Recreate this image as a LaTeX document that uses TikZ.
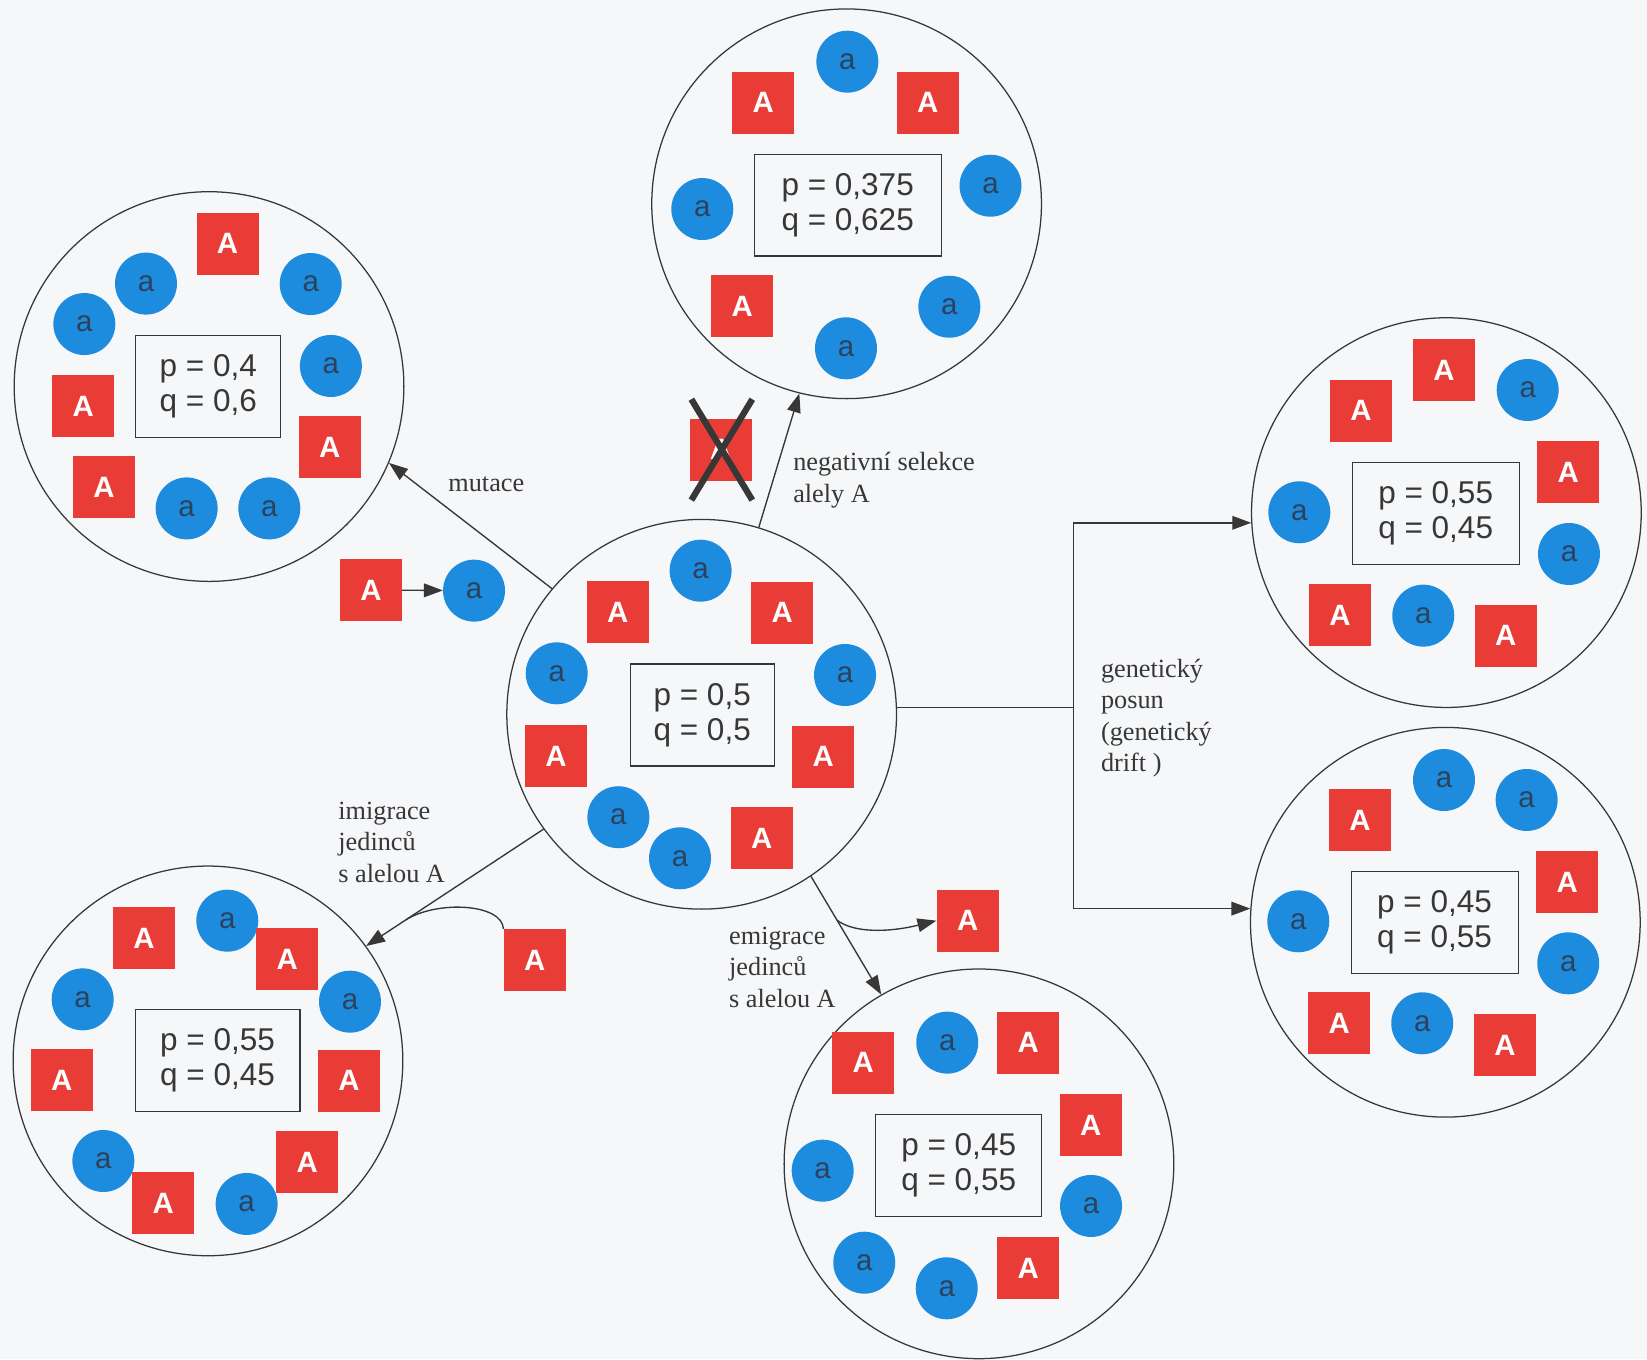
\documentclass[tikz,border=0pt]{standalone}
\usepackage{fontspec}
\setmainfont{Liberation Serif}
\newfontfamily\arialf{Liberation Sans}
\usetikzlibrary{arrows.meta,calc}
\definecolor{bg}{RGB}{246,247,249}
\definecolor{alred}{RGB}{233,60,55}
\definecolor{alblue}{RGB}{30,140,222}
\definecolor{atext}{RGB}{45,65,90}
\definecolor{ink}{RGB}{55,55,55}
\begin{document}
\begin{tikzpicture}[x=1pt,y=-1pt,
  pop/.style={circle, draw=ink, line width=1.2pt, minimum size=371pt, inner sep=0pt},
  bigA/.style={fill=alred, minimum size=59pt, inner sep=0pt, text=white, font=\arialf\bfseries\fontsize{28}{28}\selectfont},
  smalla/.style={circle, fill=alblue, minimum size=59pt, inner sep=0pt, text=atext, font=\arialf\fontsize{28}{28}\selectfont},
  freq/.style={draw=ink, line width=1.1pt, minimum height=97pt, inner sep=0pt, align=center, text=ink, font=\arialf\fontsize{30}{33}\selectfont},
  lbl/.style={inner sep=0pt, align=left, text=ink, font=\fontsize{25}{30}\selectfont},
  conn/.style={draw=ink, line width=1.3pt},
  arr/.style={conn, -{Triangle[length=18pt,width=13pt]}}]
\useasboundingbox (0,0) rectangle (1568,1294);
\fill[bg] (0,0) rectangle (1568,1294);

% population circles
\node[pop] (c1) at (199,368) {};
\node[pop] (c2) at (806,194) {};
\node[pop] (c3) at (668,680) {};
\node[pop] (c4) at (1377,488) {};
\node[pop] (c5) at (1376,878) {};
\node[pop] (c6) at (198,1010) {};
\node[pop] (c7) at (932,1108) {};

% circle 1
\node[bigA] (p1A1) at (216.6,232) {A};
\node[smalla] (p1a1) at (139,270) {a};
\node[smalla] (p1a2) at (80.3,308.5) {a};
\node[smalla] (p1a3) at (295.8,270.4) {a};
\node[smalla] (p1a4) at (315,348.4) {a};
\node[bigA] (p1A2) at (79.3,386.5) {A};
\node[bigA] (p1A3) at (314,426) {A};
\node[bigA] (p1A4) at (99,464) {A};
\node[smalla] (p1a5) at (177.7,484) {a};
\node[smalla] (p1a6) at (256.4,484) {a};
\node[freq, minimum width=138pt] (f1) at (198.3,367.7) {p = 0,4\\q = 0,6};

% circle 2
\node[smalla] (p2a1) at (806.7,58.7) {a};
\node[bigA] (p2A1) at (726.7,97.7) {A};
\node[bigA] (p2A2) at (883.2,97.7) {A};
\node[smalla] (p2a2) at (668.6,199) {a};
\node[smalla] (p2a3) at (943,176.8) {a};
\node[bigA] (p2A3) at (706.7,291.3) {A};
\node[smalla] (p2a4) at (805.4,331.6) {a};
\node[smalla] (p2a5) at (903.8,292) {a};
\node[freq, minimum width=178pt] (f2) at (807,195.2) {p = 0,375\\q = 0,625};

% circle 3
\node[smalla] (p3a1) at (667,543.3) {a};
\node[bigA] (p3A1) at (588,583) {A};
\node[bigA] (p3A2) at (744.8,583.3) {A};
\node[smalla] (p3a2) at (530,641) {a};
\node[smalla] (p3a3) at (804.5,642.6) {a};
\node[bigA] (p3A3) at (529.3,719.7) {A};
\node[bigA] (p3A4) at (783.8,720.4) {A};
\node[smalla] (p3a4) at (588.7,778) {a};
\node[smalla] (p3a5) at (647.4,817.1) {a};
\node[bigA] (p3A5) at (725.1,798.1) {A};
\node[freq, minimum width=137pt] (f3) at (668.5,680.7) {p = 0,5\\q = 0,5};

% circle 4
\node[bigA] (p4A1) at (1295.7,391) {A};
\node[bigA] (p4A2) at (1374.7,352.2) {A};
\node[smalla] (p4a1) at (1454.4,371.3) {a};
\node[bigA] (p4A3) at (1493,449.7) {A};
\node[smalla] (p4a2) at (1237,487.7) {a};
\node[smalla] (p4a3) at (1493.7,527.4) {a};
\node[bigA] (p4A4) at (1275.7,585.5) {A};
\node[smalla] (p4a4) at (1355,586.1) {a};
\node[bigA] (p4A5) at (1433.4,605.2) {A};
\node[freq, minimum width=159pt] (f4) at (1366.8,488.7) {p = 0,55\\q = 0,45};

% circle 5
\node[smalla] (p5a1) at (1374.7,742.6) {a};
\node[smalla] (p5a2) at (1453.4,761.6) {a};
\node[bigA] (p5A1) at (1294.7,780.6) {A};
\node[bigA] (p5A2) at (1492.1,840) {A};
\node[smalla] (p5a3) at (1236,877.1) {a};
\node[smalla] (p5a4) at (1493,917.1) {a};
\node[bigA] (p5A3) at (1275,974.2) {A};
\node[smalla] (p5a5) at (1354,974.2) {a};
\node[bigA] (p5A4) at (1432.8,994.9) {A};
\node[freq, minimum width=159pt] (f5) at (1365.8,878.2) {p = 0,45\\q = 0,55};

% circle 6
\node[bigA] (p6A1) at (137.1,893.3) {A};
\node[smalla] (p6a1) at (216.4,876.5) {a};
\node[bigA] (p6A2) at (273.5,913.3) {A};
\node[smalla] (p6a2) at (78.7,951.4) {a};
\node[smalla] (p6a3) at (333.2,953.6) {a};
\node[bigA] (p6A3) at (58.7,1028.2) {A};
\node[bigA] (p6A4) at (332.3,1028.8) {A};
\node[bigA] (p6A5) at (292.6,1106.5) {A};
\node[smalla] (p6a4) at (98.4,1105.3) {a};
\node[bigA] (p6A6) at (155.5,1145.6) {A};
\node[smalla] (p6a5) at (234.8,1146.2) {a};
\node[freq, minimum width=157pt] (f6) at (207.1,1009.6) {p = 0,55\\q = 0,45};

% circle 7
\node[bigA] (p7A1) at (821.9,1011.7) {A};
\node[smalla] (p7a1) at (901.8,992.6) {a};
\node[bigA] (p7A2) at (979,992.7) {A};
\node[bigA] (p7A3) at (1038.3,1071) {A};
\node[smalla] (p7a2) at (783.2,1114.5) {a};
\node[smalla] (p7a3) at (1038.7,1148.1) {a};
\node[smalla] (p7a4) at (822.8,1202.1) {a};
\node[smalla] (p7a5) at (901.3,1226.5) {a};
\node[bigA] (p7A4) at (979,1207.5) {A};
\node[freq, minimum width=158pt] (f7) at (912.7,1109.4) {p = 0,45\\q = 0,55};

% mutation
\node[bigA] (mA) at (353.2,561.7) {A};
\node[smalla] (ma) at (451.3,562.3) {a};
\draw[arr] (mA) -- (ma);
\draw[arr] (c3.140.5) -- (c1.-23.3);
\node[lbl] (lmut) at (463,461) {mutace};

% selection
\node[bigA] (xA) at (686.2,428.1) {A};
\draw[draw=ink, line width=6pt] ($(xA)+(-28,-48)$) -- ($(xA)+(30,48)$);
\draw[draw=ink, line width=6pt] ($(xA)+(30,-48)$) -- ($(xA)+(-28,48)$);
\draw[arr] (c3.73.3) -- (c2.-104.6);
\node[lbl, anchor=west] (lsel) at (755,457) {negativní selekce\\alely A};

% immigration
\node[bigA] (imA) at (509,914) {A};
\draw[arr] (c3.216.3) -- (c6.36.1);
\coordinate (imj) at ($(c3.216.3)!0.777!(c6.36.1)$);
\draw[conn] (imA.north west) .. controls (478,860) and (416,857) .. (imj);
\node[lbl, anchor=west] (limm) at (322,802) {imigrace\\jedinců\\s alelou A};

% emigration
\node[bigA] (emA) at (921.2,876.5) {A};
\draw[arr] (c3.-56.6) -- (c7.120);
\coordinate (emj) at ($(c3.-56.6)!0.37!(c7.120)$);
\draw[arr] (emj) .. controls (812,888) and (845,888) .. (emA.west);
\node[lbl, anchor=west] (lemi) at (694,921) {emigrace\\jedinců\\s alelou A};

% drift
\coordinate (split) at ($(c3.2)+(168,0)$);
\draw[conn] (c3.2) -- (split);
\draw[arr] (split) |- (c4.183);
\draw[arr] (split) |- (c5.176.5);
\node[lbl, anchor=west] (ldrift) at (1048,683.5) {genetický\\posun\\(genetický\\drift )};
\end{tikzpicture}
\end{document}
